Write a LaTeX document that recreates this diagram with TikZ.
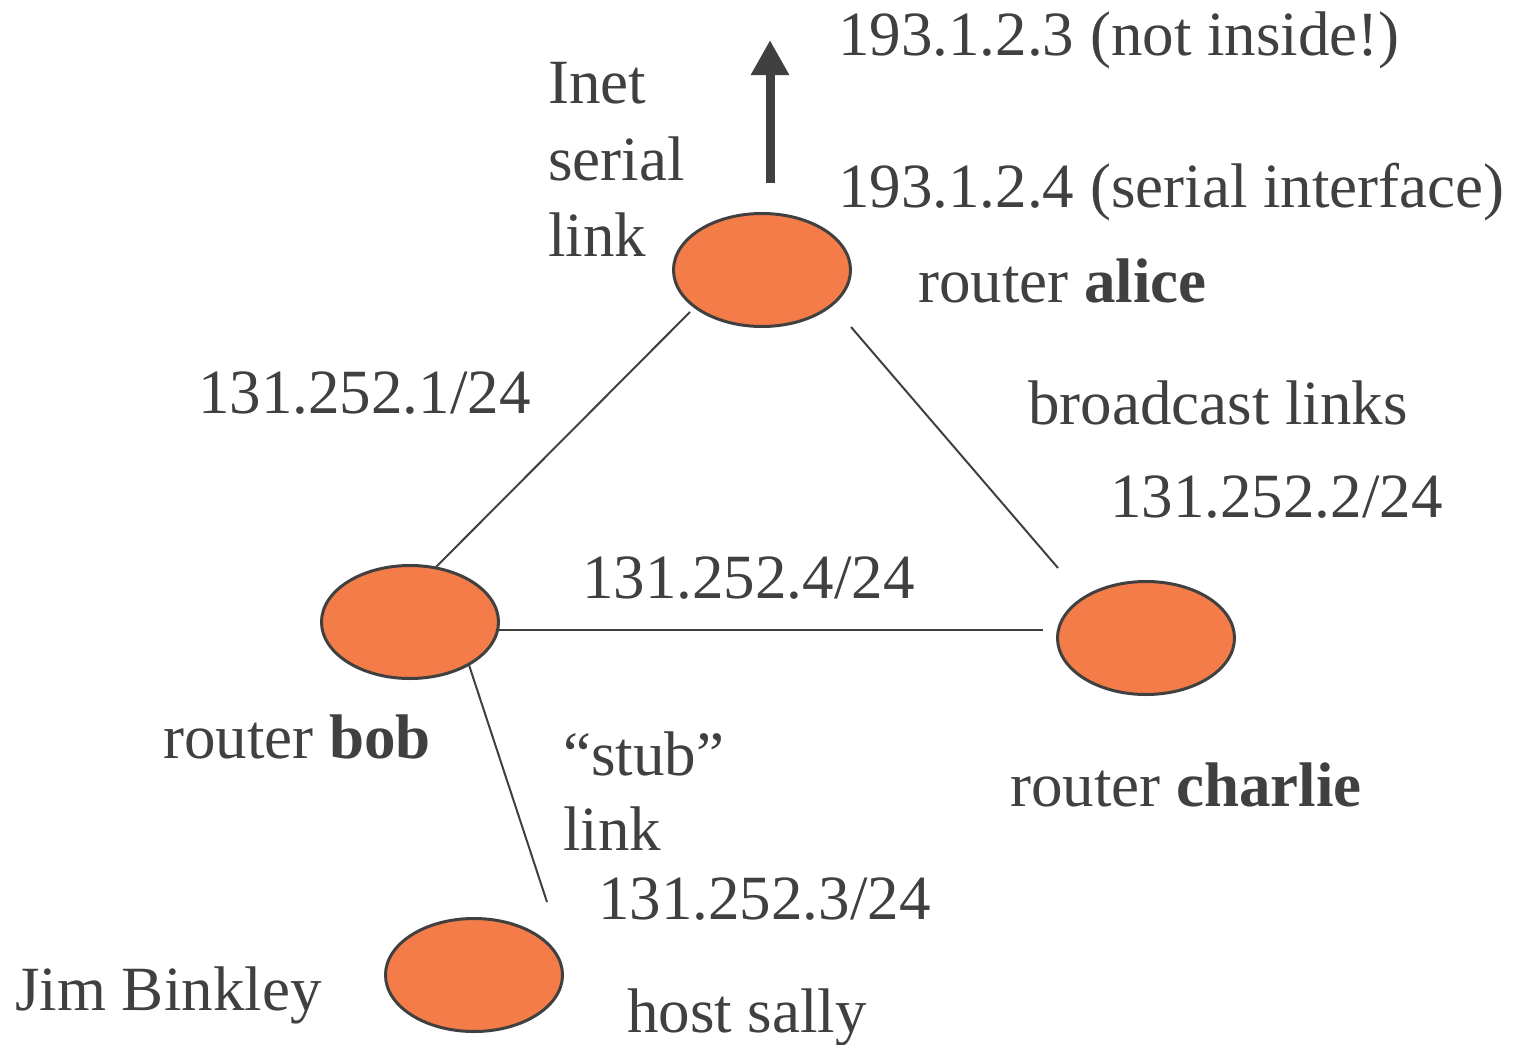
\documentclass[tikz,border=0pt]{standalone}
\usepackage{fontspec}
\setmainfont{Liberation Serif}
\usetikzlibrary{shapes.geometric,arrows.meta}
\definecolor{ink}{HTML}{404040}
\definecolor{orangefill}{HTML}{F47C48}
\begin{document}
\begin{tikzpicture}[x=1pt,y=-1pt,
  font=\fontsize{63}{77}\selectfont,
  every node/.style={text=ink},
  routernode/.style={ellipse,draw=ink,line width=3pt,fill=orangefill,minimum width=177pt,minimum height=113pt,inner sep=0pt},
  lbl/.style={anchor=base west,inner sep=0pt},
  linkline/.style={draw=ink,line width=2pt}]
\useasboundingbox (0,0) rectangle (1515,1044);
% routers
\node[routernode] (alice) at (762,270) {};
\node[routernode] (bob) at (410,622) {};
\node[routernode] (charlie) at (1146,638) {};
\node[routernode] (sally) at (474,975) {};
% link end points
\coordinate (ab1) at (690,312);
\coordinate (ab2) at (436,567);
\coordinate (ac1) at (851,327);
\coordinate (ac2) at (1058,568);
\coordinate (bc1) at (499,630);
\coordinate (bc2) at (1043,630);
\coordinate (bs1) at (469,665);
\coordinate (bs2) at (547,902);
\coordinate (arrowfoot) at (770,183);
\coordinate (arrowtip) at (770,40);
\draw[linkline] (ab1) -- (ab2);
\draw[linkline] (ac1) -- (ac2);
\draw[linkline] (bc1) -- (bc2);
\draw[linkline] (bs1) -- (bs2);
\draw[draw=ink,line width=9pt,-{Triangle[length=35pt,width=36pt,fill=ink]}] (arrowfoot) -- (arrowtip);
% labels
\node[lbl] (ip3) at (838,55) {193.1.2.3 (not inside!)};
\node[lbl] (ip4) at (838,207) {193.1.2.4 (serial interface)};
\node[lbl] (alicelbl) at (918,302) {router \textbf{alice}};
\node[lbl] (inet1) at (548,103) {Inet};
\node[lbl] (inet2) at (548,180) {serial};
\node[lbl] (inet3) at (548,256) {link};
\node[lbl] (net1) at (198,413) {131.252.1/24};
\node[lbl] (bcast) at (1028,424) {broadcast links};
\node[lbl] (net2) at (1110,517) {131.252.2/24};
\node[lbl] (net4) at (582,598) {131.252.4/24};
\node[lbl] (boblbl) at (163,758) {router \textbf{bob}};
\node[lbl] (stub1) at (563,775) {``stub''};
\node[lbl] (stub2) at (563,850) {link};
\node[lbl] (charlielbl) at (1010,806) {router \textbf{charlie}};
\node[lbl] (net3) at (598,919) {131.252.3/24};
\node[lbl] (jim) at (15,1010) {Jim Binkley};
\node[lbl] (sallylbl) at (627,1032) {host sally};
\end{tikzpicture}
\end{document}
